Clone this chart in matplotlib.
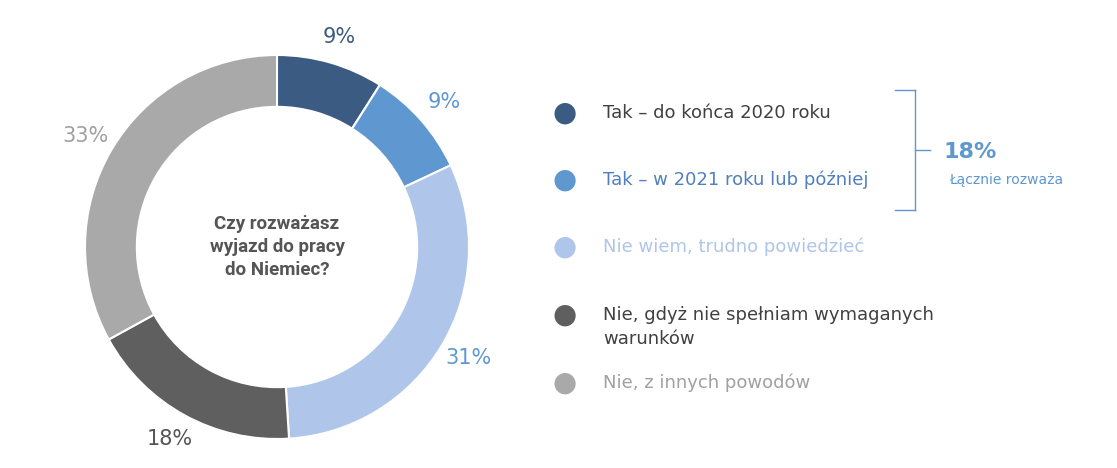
import numpy as np
import matplotlib
matplotlib.use("Agg")
import matplotlib.pyplot as plt

categories = ["Tak – do końca 2020 roku", "Tak – w 2021 roku lub później",
              "Nie wiem, trudno powiedzieć",
              "Nie, gdyż nie spełniam wymaganych\nwarunków", "Nie, z innych powodów"]
values = [9, 9, 31, 18, 33]
colors = ["#3b5b82", "#5f97d1", "#afc5e9", "#5f5f5f", "#a9a9a9"]
label_colors = ["#3b5b82", "#5f97d1", "#5f97d1", "#555555", "#a0a0a0"]
legend_text_colors = ["#404040", "#4f7fc0", "#afc5e9", "#404040", "#a0a0a0"]

W, H = 1117, 468
fig = plt.figure(figsize=(W / 100, H / 100), dpi=100)

cx, cy, r = 277, 247, 192
ax = fig.add_axes([(cx - r) / W, 1 - (cy + r) / H, 2 * r / W, 2 * r / H])
wedges, _ = ax.pie(values, colors=colors, startangle=90, counterclock=False,
                   radius=1, wedgeprops=dict(width=0.27, edgecolor="white", linewidth=1.5))
ax.set_xlim(-1, 1)
ax.set_ylim(-1, 1)
ax.set_aspect("equal")
ax.axis("off")

for w, v, c in zip(wedges, values, label_colors):
    ang = np.deg2rad((w.theta1 + w.theta2) / 2)
    ax.text(1.16 * np.cos(ang), 1.14 * np.sin(ang), f"{v}%", color=c,
            fontsize=15, ha="center", va="center")

ax.text(0, 0, "Czy rozważasz\nwyjazd do pracy\ndo Niemiec?", ha="center", va="center",
        fontsize=13.5, fontweight="bold", color="#555555", linespacing=1.35,
        fontfamily="Liberation Sans Narrow" if False else "DejaVu Sans Condensed" if False else "Roboto")

ys = [113, 180, 247, 315, 383]
for y, lab, c, tc in zip(ys, categories, colors, legend_text_colors):
    fig.text(565 / W, 1 - y / H, "●", color=c, fontsize=20, ha="center", va="center")
    off = 12 if "\n" in lab else 0
    fig.text(603 / W, 1 - (y + off) / H, lab, color=tc, fontsize=13, ha="left",
             va="center", linespacing=1.5)

bc = "#5f97d1"
fig.add_artist(plt.Line2D([915 / W, 915 / W], [1 - 90 / H, 1 - 210 / H], color=bc, lw=1))
fig.add_artist(plt.Line2D([895 / W, 915 / W], [1 - 90 / H, 1 - 90 / H], color=bc, lw=1))
fig.add_artist(plt.Line2D([895 / W, 915 / W], [1 - 210 / H, 1 - 210 / H], color=bc, lw=1))
fig.add_artist(plt.Line2D([915 / W, 930 / W], [1 - 150 / H, 1 - 150 / H], color=bc, lw=1))
fig.text(970 / W, 1 - 152 / H, "18%", color=bc, fontsize=16, fontweight="bold",
         ha="center", va="center")
fig.text(1006 / W, 1 - 180 / H, "Łącznie rozważa", color=bc, fontsize=10,
         ha="center", va="center")

fig.savefig("out.png", dpi=100, facecolor="white")
